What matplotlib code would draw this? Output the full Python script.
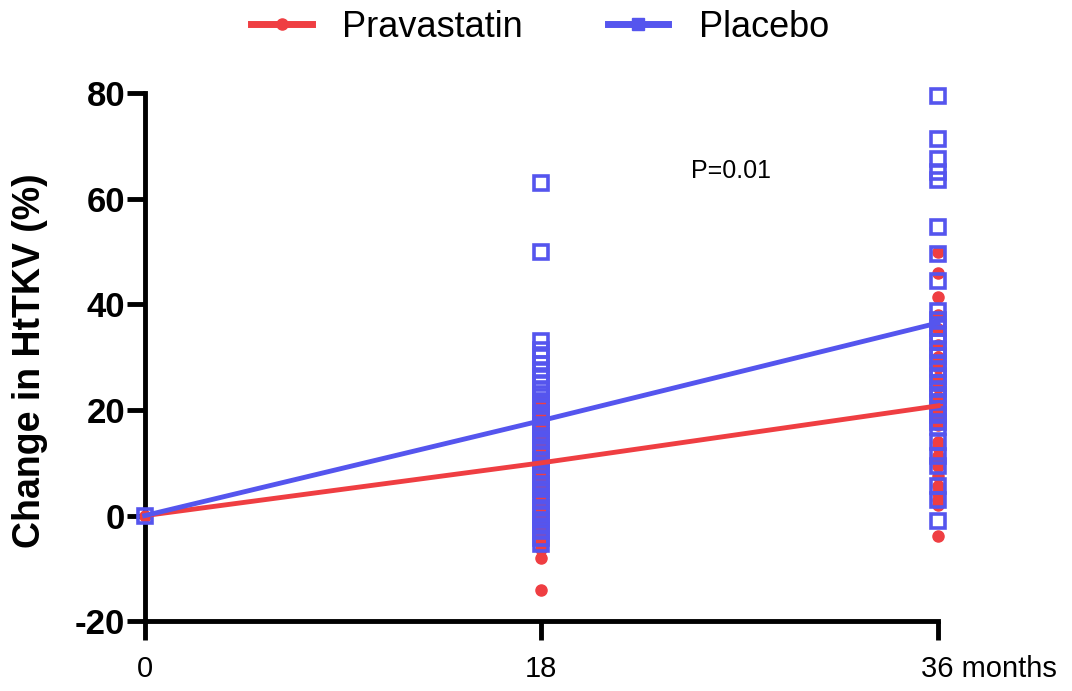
import matplotlib
matplotlib.use("Agg")
import matplotlib.pyplot as plt
from matplotlib.lines import Line2D
from matplotlib.transforms import ScaledTranslation

plt.rcParams['font.family'] = ['Liberation Sans', 'DejaVu Sans']

# ---- data ----
time_points = [0, 18, 36]
x_tick_labels = ["0", "18", "36 months"]
y_ticks = [-20, 0, 20, 40, 60, 80]
prav_mean = [0, 10, 20.8]
plac_mean = [0, 18, 36.5]

prav_18 = [-14, -8, -6.3, -5, -4, -2.8, -2, -0.7, 0.5, 1.5, 2.6, 3.4, 4.5, 5.2, 6.1,
           7.3, 8, 9.2, 10.1, 11, 11.8, 12.9, 14, 15.2, 16, 17.1, 18.3, 19, 20.2, 21.4, 22]
plac_18 = [63, 50, 33, 31.3, 30, 28.8, 27.5, 26.4, 25.2, 24, 23.1, 21.8, 20.7, 19.5,
           18.6, 17.2, 16.4, 15, 14.1, 13, 11.7, 10.5, 9.6, 8.4, 7.2, 6, 5.1, 3.8, 2.7,
           1.5, 0.4, -0.8, -1.9, -3, -4.2, -5.4]
prav_36 = [50, 46, 41.4, 38, 35.3, 32.4, 30.1, 28.2, 26, 24.3, 22.5, 21, 19.7, 18.4,
           17.2, 14, 13, 11.3, 10.2, 9.4, 7.5, 5.6, 4.2, 3, 2, -3.9]
plac_36 = [79.5, 71.3, 67.5, 65, 63.5, 54.6, 49.6, 44.5, 38.7, 37, 35.6, 34.2, 32.8,
           31.4, 30.3, 29, 27.7, 26.5, 25.2, 24, 22.8, 21.6, 20.2, 19, 17.8, 16.8,
           14, 11.3, 9.4, 5.6, 3, -1]

red = '#EF3E42'
blue = '#5555EE'

fig = plt.figure(figsize=(10.72, 6.91), dpi=100)
ax = fig.add_axes([0.135, 0.101, 0.740, 0.764])

# scatter points
ax.plot([time_points[1]] * len(prav_18), prav_18, 'o', color=red, ms=8, mec=red,
        clip_on=False, zorder=3)
ax.plot([time_points[2]] * len(prav_36), prav_36, 'o', color=red, ms=8, mec=red,
        clip_on=False, zorder=3)
ax.plot([time_points[0]], [0], 'o', color=red, ms=8, clip_on=False, zorder=3)
ax.plot([time_points[1]] * len(plac_18), plac_18, 's', mfc='none', mec=blue, mew=2.6,
        ms=10, clip_on=False, zorder=4)
ax.plot([time_points[2]] * len(plac_36), plac_36, 's', mfc='none', mec=blue, mew=2.6,
        ms=10, clip_on=False, zorder=4)
ax.plot([time_points[0]], [0], 's', mfc='none', mec=blue, mew=2.6, ms=10,
        clip_on=False, zorder=4)

# mean lines
ax.plot(time_points, prav_mean, '-', color=red, lw=3.5, zorder=5, clip_on=False)
ax.plot(time_points, plac_mean, '-', color=blue, lw=3.5, zorder=6, clip_on=False)

ax.set_xlim(0, 36)
ax.set_ylim(-20, 80)
ax.set_xticks(time_points)
ax.set_xticklabels(x_tick_labels, fontsize=21)
ax.set_yticks(y_ticks)
ax.set_yticklabels([str(v) for v in y_ticks], fontsize=25, fontweight='bold')

ax.spines['top'].set_visible(False)
ax.spines['right'].set_visible(False)
ax.spines['left'].set_linewidth(3.5)
ax.spines['bottom'].set_linewidth(3.5)
ax.tick_params(axis='x', width=3.5, length=14, pad=10)
ax.tick_params(axis='y', width=3.5, length=13, pad=1)

# "36 months": keep "36" centred under its tick
last = ax.get_xticklabels()[2]
last.set_horizontalalignment('left')
last.set_transform(last.get_transform() + ScaledTranslation(-0.17, 0, fig.dpi_scale_trans))

ax.set_ylabel("Change in HtTKV (%)", fontsize=27, fontweight='bold')
ax.yaxis.set_label_coords(-0.122, 0.494)

ax.text(26.6, 65.3, "P=0.01", fontsize=18, ha='center', va='center')

handles = [Line2D([], [], color=red, lw=5, marker='o', ms=8),
           Line2D([], [], color=blue, lw=5, marker='s', ms=8)]
fig.legend(handles, ["Pravastatin", "Placebo"], loc='upper center',
           bbox_to_anchor=(0.504, 1.033), ncol=2, frameon=False, fontsize=26,
           handlelength=1.67, columnspacing=2.35, handletextpad=0.85)

fig.savefig("out.png", dpi=100)
